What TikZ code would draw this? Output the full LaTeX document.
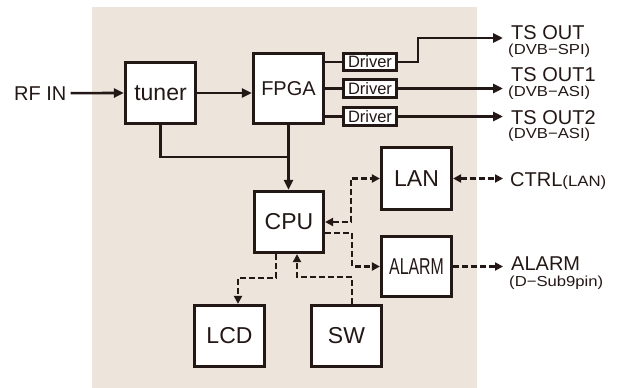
\documentclass[tikz,border=0pt]{standalone}
\usepackage{fontspec}
\usepackage{graphicx}
\setmainfont{Liberation Sans}
\usetikzlibrary{arrows.meta}
\definecolor{bg}{HTML}{EDE5DB}
\definecolor{ink}{HTML}{231815}
\begin{document}
\begin{tikzpicture}[x=1pt,y=-1pt,
  box/.style={draw=ink,fill=white,line width=3.2pt,inner sep=0pt,
    minimum width=70pt,minimum height=61pt,text=ink,font=\fontsize{23}{24}\selectfont},
  drv/.style={draw=ink,fill=white,line width=2.6pt,inner sep=0pt,
    minimum width=53.5pt,minimum height=17.5pt,text=ink,font=\fontsize{16.5}{17}\selectfont},
  big/.style={inner sep=0pt,text=ink,font=\fontsize{20}{20}\selectfont},
  small/.style={inner sep=0pt,text=ink,font=\fontsize{14.5}{15}\selectfont},
  conn/.style={draw=ink,line width=2.6pt},
  dsh/.style={draw=ink,line width=2.8pt,dash pattern=on 6pt off 3pt},
  tipa/.tip={Triangle[length=10pt,width=9pt]},
  tipb/.tip={Triangle[length=8pt,width=8pt]}
]
\useasboundingbox (0,0) rectangle (624,388);
\fill[bg] (92,7) rectangle (477,388);

% boxes
\node[box] (tuner) at (160.5,93) {tuner};
\node[box,minimum height=70pt,font=\fontsize{20}{21}\selectfont] (fpga) at (288.5,88.5) {FPGA};
\node[box,minimum width=69pt] (cpu) at (289,222) {CPU};
\node[box,minimum height=62pt] (lan) at (416.5,178.5) {LAN};
\node[box,minimum height=60pt] (alarm) at (416.5,266.5) {\scalebox{0.69}[1]{ALARM}};
\node[box] (lcd) at (229.5,336) {LCD};
\node[box] (sw) at (346.5,336) {SW};
\node[drv] (d1) at (370,62) {Driver};
\node[drv] (d2) at (370,88.5) {Driver};
\node[drv] (d3) at (370,116.5) {Driver};

% labels
\node[big,anchor=base west] (rfin) at (14,100) {RF IN};
\node[big,anchor=base west] (ts0) at (511,39) {TS OUT};
\node[small,anchor=base west] (ts0s) at (508,54) {\scalebox{1.15}[1]{(DVB−SPI)}};
\node[big,anchor=base west] (ts1) at (511,81.5) {TS OUT1};
\node[small,anchor=base west] (ts1s) at (508,96) {\scalebox{1.15}[1]{(DVB−ASI)}};
\node[big,anchor=base west] (ts2) at (511,124) {TS OUT2};
\node[small,anchor=base west] (ts2s) at (508,138.5) {\scalebox{1.15}[1]{(DVB−ASI)}};
\node[big,anchor=base west] (ctrl) at (510,186) {CTRL\fontsize{15}{16}\selectfont\scalebox{1.12}[1]{(LAN)}};
\node[big,anchor=base west] (alm) at (511,270) {ALARM};
\node[small,anchor=base west] (alms) at (509,286) {\scalebox{1.15}[1]{(D−Sub9pin)}};

% free ends / bends
\coordinate (o0) at (503,38);
\coordinate (o1) at (503,88.5);
\coordinate (o2) at (503,116.5);
\coordinate (oc) at (503,178.5);
\coordinate (oa) at (503,266.5);
\coordinate (k) at (418,38);
\coordinate (j) at (288.5,157);
\coordinate (v1) at (351,222);
\coordinate (v2) at (352,233);
\coordinate (h1) at (276,278);
\coordinate (h2) at (238,278);
\coordinate (g1) at (352,277);
\coordinate (g2) at (297,277);

% solid connectors
\draw[conn,-tipa] ([xshift=4pt]rfin.east) -- (tuner.west);
\draw[conn,-tipa] (tuner.east) -- (tuner.east -| fpga.west);
\draw[conn] (tuner.south) |- (j);
\draw[conn,-tipa] (fpga.south) -- (fpga.south |- cpu.north);
\draw[conn] (fpga.east |- d1) -- (d1.west);
\draw[conn] (fpga.east |- d2) -- (d2.west);
\draw[conn] (fpga.east |- d3) -- (d3.west);
\draw[conn,-tipa] (d1.east) -| (k) -- (o0);
\draw[conn,-tipa] (d2.east) -- (o1);
\draw[conn,-tipa] (d3.east) -- (o2);

% dashed connectors
\draw[dsh,tipb-tipb] (lan.east) -- (oc);
\draw[dsh,-tipb] (alarm.east) -- (oa);
\draw[dsh,tipb-tipb] (cpu.east |- v1) -- (v1) |- (lan.west);
\draw[dsh,-tipb] (cpu.east |- v2) -- (v2) |- (alarm.west);
\draw[dsh,-tipb] (cpu.south -| h1) -- (h1) -- (h2) -- (h2 |- lcd.north);
\draw[dsh,-tipb] (sw.north -| g1) -- (g1) -- (g2) -- (g2 |- cpu.south);
\end{tikzpicture}
\end{document}
